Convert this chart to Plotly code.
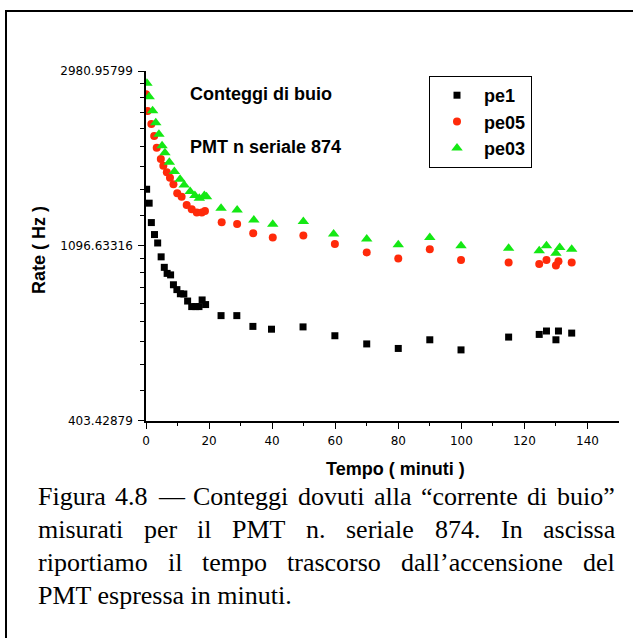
import plotly.graph_objects as go

# ---- measured dark-count rates, PMT serial 874 ----
time_pe1 = [0.2, 1.0, 1.7, 2.7, 3.7, 4.8, 5.8, 6.7, 7.8, 8.7, 9.8, 10.9, 12.0, 13.2, 14.5,
            15.8, 16.8, 17.8, 18.9, 23.8, 28.8, 33.9, 39.8, 49.8, 59.9, 70.0, 80.0, 90.0,
            99.9, 115.0, 124.7, 127.0, 130.0, 130.8, 135.0]
rate_pe1 = [1516, 1400, 1253, 1170, 1115, 1030, 970, 937, 929, 878, 854, 834, 833, 800, 775,
            775, 775, 805, 784, 736, 736, 692, 681, 690, 656, 626, 610, 641,
            605, 651, 661, 674, 641, 674, 666]

time_pe05 = [0.0, 0.5, 1.7, 2.6, 3.4, 4.7, 5.5, 6.6, 7.6, 8.7, 9.9, 11.3, 12.9, 14.5, 16.1,
             17.7, 18.7, 24.0, 28.9, 34.0, 40.2, 49.9, 59.9, 70.0, 80.0, 90.0, 99.9, 115.0,
             124.7, 127.0, 130.0, 130.8, 135.0]
rate_pe05 = [2610, 2372, 2202, 2056, 1923, 1803, 1735, 1671, 1620, 1560, 1482, 1453, 1386, 1352, 1327,
             1327, 1339, 1256, 1243, 1179, 1150, 1163, 1109, 1056, 1020, 1076, 1012, 997,
             988, 1012, 980, 1005, 997]

time_pe03 = [0.3, 1.0, 2.1, 3.1, 4.1, 5.1, 6.0, 7.4, 9.0, 10.8, 12.1, 14.0, 15.5, 16.9, 18.5,
             19.2, 23.8, 28.9, 34.2, 40.2, 49.9, 59.5, 70.0, 80.0, 90.0, 99.9, 115.0, 124.7,
             127.0, 130.0, 131.2, 135.0]
rate_pe03 = [2779, 2574, 2376, 2218, 2076, 1945, 1869, 1769, 1677, 1605, 1554, 1496, 1462, 1440, 1462,
             1453, 1360, 1347, 1272, 1241, 1260, 1174, 1141, 1103, 1150, 1097, 1082, 1067,
             1098, 1052, 1086, 1076]

series_names = ["pe1", "pe05", "pe03"]

x_tick_vals = [0, 20, 40, 60, 80, 100, 120, 140]
x_minor_vals = [10, 30, 50, 70, 90, 110, 130]
x_range = [0, 150]

y_tick_vals = [403.42879, 1096.63316, 2980.95799]
y_tick_text = ["403.42879", "1096.63316", "2980.95799"]

caption_lines = [
    "Figura 4.8 \u2014 Conteggi dovuti alla \u201ccorrente di buio\u201d",
    "misurati per il PMT n. seriale 874. In ascissa",
    "riportiamo il tempo trascorso dall\u2019accensione del",
    "PMT espressa in minuti.",
]

# ---- page geometry (pixels) ----
FIG_W, FIG_H = 633, 638
PL, PR, PT, PB = 146, 619, 71, 421   # plot-area box


def px_x(p):
    return (p - PL) / (PR - PL)


def px_y(p):
    return 1 - (p - PT) / (PB - PT)


# minor ticks on the log axis: 8 evenly spaced values between the major ones
y_minor_vals = []
for a, b in zip(y_tick_vals[:-1], y_tick_vals[1:]):
    step = (b - a) / 9
    y_minor_vals += [a + k * step for k in range(1, 9)]

fig = go.Figure()

fig.add_trace(go.Scatter(x=time_pe1, y=rate_pe1, mode="markers", name=series_names[0],
                         legendgroup="a",
                         marker=dict(symbol="square", size=7, color="black")))
fig.add_trace(go.Scatter(x=time_pe05, y=rate_pe05, mode="markers", name=series_names[1],
                         legendgroup="b",
                         marker=dict(symbol="circle", size=8, color="#ff2a0a")))
fig.add_trace(go.Scatter(x=time_pe03, y=rate_pe03, mode="markers", name=series_names[2],
                         legendgroup="c",
                         marker=dict(symbol="triangle-up", size=10, color="#14e814")))

origin_font = dict(family="Liberation Sans, Arial, sans-serif", size=18, color="black",
                   weight="bold")
tick_font = dict(family="DejaVu Sans, sans-serif", size=12, color="black")
serif_font = dict(family="Liberation Serif, Times New Roman, serif", size=26, color="black")

fig.update_xaxes(
    range=x_range, showline=True, linecolor="black", linewidth=1.5,
    ticks="outside", ticklen=6, tickwidth=1, tickcolor="black",
    tickmode="array", tickvals=x_tick_vals, ticktext=[str(v) for v in x_tick_vals],
    tickfont=tick_font, ticklabelstandoff=2, showgrid=False, zeroline=False, mirror=False,
    minor=dict(tickmode="array", tickvals=x_minor_vals, ticks="outside", ticklen=3.5,
               tickwidth=1, tickcolor="black", showgrid=False),
)
fig.update_yaxes(
    type="log", range=[2.605170186, 3.474356488],
    showline=True, linecolor="black", linewidth=1.5,
    ticks="outside", ticklen=6, tickwidth=1, tickcolor="black",
    tickmode="array", tickvals=y_tick_vals, ticktext=y_tick_text,
    tickfont=tick_font, ticklabelstandoff=3, showgrid=False, zeroline=False, mirror=False,
    minor=dict(tickmode="array", tickvals=y_minor_vals, ticks="outside", ticklen=4.5,
               tickwidth=1, tickcolor="black", showgrid=False),
)

annotations = []


def add_text(text, x, y, font, xanchor="left", yanchor="middle", angle=0):
    annotations.append(dict(text=text, x=px_x(x), y=px_y(y), xref="paper", yref="paper",
                            xanchor=xanchor, yanchor=yanchor, showarrow=False,
                            font=font, textangle=angle, borderpad=0, borderwidth=0))


# in-plot labels
add_text("Conteggi di buio", 190, 94, origin_font)
add_text("PMT n seriale 874", 190, 146.5, origin_font)

# axis titles
add_text("Tempo ( minuti )", 395, 469, origin_font, xanchor="center")
add_text("Rate ( Hz )", 39, 250, origin_font, xanchor="center", angle=-90)

# caption in Times, justified between two margins
TIMES_W = {
    " ": 250, "a": 444, "b": 500, "c": 444, "d": 500, "e": 444, "f": 333, "g": 500,
    "h": 500, "i": 278, "j": 278, "k": 500, "l": 278, "m": 778, "n": 500, "o": 500,
    "p": 500, "q": 500, "r": 333, "s": 389, "t": 278, "u": 500, "v": 500, "w": 722,
    "x": 500, "y": 500, "z": 444, "A": 722, "B": 667, "C": 667, "D": 722, "E": 611,
    "F": 556, "G": 722, "H": 722, "I": 333, "J": 389, "K": 722, "L": 611, "M": 889,
    "N": 722, "O": 722, "P": 556, "Q": 722, "R": 667, "S": 556, "T": 611, "U": 722,
    "V": 722, "W": 944, "X": 722, "Y": 722, "Z": 611, ".": 250, ",": 250,
    "\u2014": 1000, "\u201c": 444, "\u201d": 444, "\u2019": 333,
}
for d in "0123456789":
    TIMES_W[d] = 500


def word_width(w, size):
    return sum(TIMES_W.get(ch, 500) for ch in w) * size / 1000.0


CAP_LEFT, CAP_RIGHT = 38, 615
cap_size = serif_font["size"]
cap_baselines = [505, 538, 571, 604]
for i, line in enumerate(caption_lines):
    yc = cap_baselines[i] - 0.3375 * cap_size
    last = i == len(caption_lines) - 1
    if last:
        add_text(line, CAP_LEFT, yc, serif_font)
        continue
    words = line.split(" ")
    total = sum(word_width(w, cap_size) for w in words)
    gap = (CAP_RIGHT - CAP_LEFT - total) / (len(words) - 1)
    xpos = CAP_LEFT
    for w in words:
        add_text(w, xpos, yc, serif_font)
        xpos += word_width(w, cap_size) + gap

# outer frame of the figure box
shapes = [dict(type="rect", xref="paper", yref="paper",
               x0=px_x(6), x1=px_x(645), y0=px_y(650), y1=px_y(11),
               line=dict(color="black", width=2), fillcolor="rgba(0,0,0,0)", layer="below")]

fig.update_layout(
    width=FIG_W, height=FIG_H,
    margin=dict(l=PL, r=FIG_W - PR, t=PT, b=FIG_H - PB, autoexpand=False),
    paper_bgcolor="white", plot_bgcolor="white",
    showlegend=True,
    legend=dict(x=px_x(429), y=px_y(76), xanchor="left", yanchor="top",
                bordercolor="black", borderwidth=1, bgcolor="white",
                font=dict(family="Liberation Sans, Arial, sans-serif", size=18,
                          color="black", weight="bold"),
                itemwidth=44, traceorder="grouped", tracegroupgap=0,
                entrywidth=50, entrywidthmode="pixels"),
    annotations=annotations,
    shapes=shapes,
)

fig.write_html("out.html")
